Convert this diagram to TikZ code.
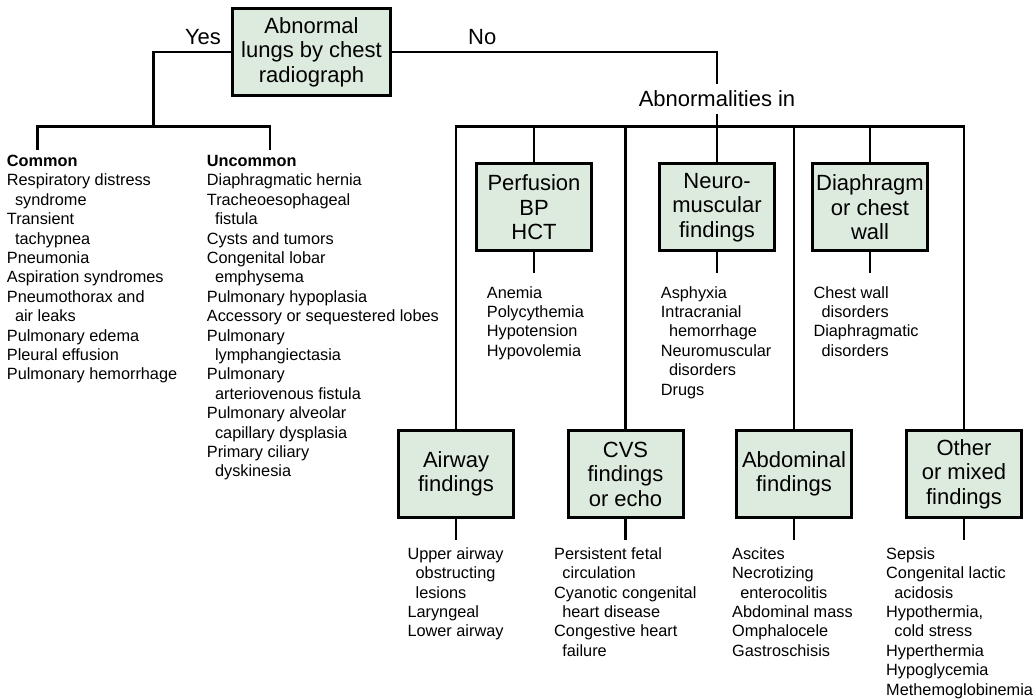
\documentclass[tikz,border=0pt]{standalone}
\usepackage{fontspec}
\setmainfont{Liberation Sans}
\usetikzlibrary{positioning}
\definecolor{boxgreen}{RGB}{221,234,222}
\newcommand{\ind}{\hspace*{0.5em}}
\begin{document}
\begin{tikzpicture}[x=1pt, y=-1pt, line join=miter,
		findbox/.style={draw, line width=3pt, fill=boxgreen, align=center, minimum width=115pt, minimum height=87pt, inner sep=1pt, font=\fontsize{22}{24.5}\selectfont},
		conn/.style={line width=2.8pt},
		lst/.style={anchor=north west, align=left, inner sep=0pt, font=\fontsize{16.3}{19.4}\selectfont},
		lbl/.style={inner sep=0pt, font=\fontsize{22}{25}\selectfont}]
	\useasboundingbox (0,0) rectangle (1036,700);
	% boxes
	\node[findbox, minimum width=158pt] (top) at (311.5,52) {Abnormal\\lungs by chest\\radiograph};
	\node[findbox] (perf) at (534,207.3) {Perfusion\\BP\\HCT};
	\node[findbox] (neuro) at (717,207.3) {Neuro-\\muscular\\findings};
	\node[findbox] (diaph) at (870,207.3) {Diaphragm\\or chest\\wall};
	\node[findbox] (airway) at (456,474) {Airway\\findings};
	\node[findbox] (cvs) at (625.5,474) {CVS\\findings\\or echo};
	\node[findbox] (abd) at (794,474) {Abdominal\\findings};
	\node[findbox] (other) at (964,474) {Other\\or mixed\\findings};
	% labels
	\node[lbl] (yes) at (203,37) {Yes};
	\node[lbl] (no) at (482.3,37) {No};
	\node[lbl, inner ysep=7pt] (abn) at (717,99) {Abnormalities in};
	% lists
	\node[lst] (common) at (6.7,155) {\textbf{Common}\\Respiratory distress\\\ind syndrome\\Transient\\\ind tachypnea\\Pneumonia\\Aspiration syndromes\\Pneumothorax and\\\ind air leaks\\Pulmonary edema\\Pleural effusion\\Pulmonary hemorrhage};
	\node[lst] (uncommon) at (206.7,155) {\textbf{Uncommon}\\Diaphragmatic hernia\\Tracheoesophageal\\\ind fistula\\Cysts and tumors\\Congenital lobar\\\ind emphysema\\Pulmonary hypoplasia\\Accessory or sequestered lobes\\Pulmonary\\\ind lymphangiectasia\\Pulmonary\\\ind arteriovenous fistula\\Pulmonary alveolar\\\ind capillary dysplasia\\Primary ciliary\\\ind dyskinesia};
	\node[lst] (perflist) at (486.7,286) {Anemia\\Polycythemia\\Hypotension\\Hypovolemia};
	\node[lst] (neurolist) at (660.7,286) {Asphyxia\\Intracranial\\\ind hemorrhage\\Neuromuscular\\\ind disorders\\Drugs};
	\node[lst] (diaphlist) at (813.3,286) {Chest wall\\\ind disorders\\Diaphragmatic\\\ind disorders};
	\node[lst] (airwaylist) at (407.3,547.3) {Upper airway\\\ind obstructing\\\ind lesions\\Laryngeal\\Lower airway};
	\node[lst] (cvslist) at (554,547.3) {Persistent fetal\\\ind circulation\\Cyanotic congenital\\\ind heart disease\\Congestive heart\\\ind failure};
	\node[lst] (abdlist) at (732,547.3) {Ascites\\Necrotizing\\\ind enterocolitis\\Abdominal mass\\Omphalocele\\Gastroschisis};
	\node[lst] (otherlist) at (886,547.3) {Sepsis\\Congenital lactic\\\ind acidosis\\Hypothermia,\\\ind cold stress\\Hyperthermia\\Hypoglycemia\\Methemoglobinemia};
	% yes branch
	\coordinate (yj) at (153.3,126.7);
	\coordinate (cj) at (37.7,126.7);
	\coordinate (uj) at (270,126.7);
	\draw[conn] (top.west) -| (yj);
	\draw[conn] (cj |- common.north) ++(0,-5) -- (cj) -- (uj) -- ++(0,23.3);
	% no branch
	\coordinate (aj) at (717,126.7);
	\draw[conn] (top.east) -| (abn.north);
	\draw[conn] (abn.south) -- (aj);
	\draw[conn] (airway.north) |- (other.north |- aj) -- (other.north);
	\foreach \b in {perf, neuro, diaph, cvs, abd}
		\draw[conn] (\b.north) -- (\b.north |- aj);
	\foreach \b in {perf, neuro, diaph, airway, cvs, abd, other}
		\draw[conn] (\b.south) -- ++(0,21);
\end{tikzpicture}
\end{document}
